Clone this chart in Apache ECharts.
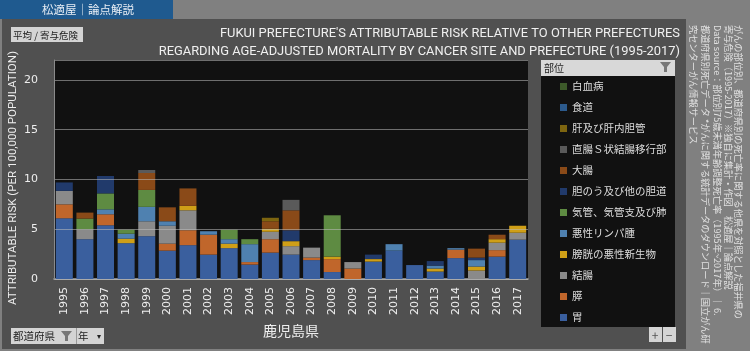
<!DOCTYPE html>
<html>
<head>
<meta charset="utf-8">
<style>
    html, body { margin: 0; padding: 0; background: #505050; }
    #chart { width: 750px; height: 351px; }
</style>
<script src="https://cdn.jsdelivr.net/npm/echarts@6/dist/echarts.min.js"></script>
</head>
<body>
<div id="chart"></div>
<script>
const years = ['1995','1996','1997','1998','1999','2000','2001','2002','2003','2004','2005','2006','2007','2008','2009','2010','2011','2012','2013','2014','2015','2016','2017'];

// values, bottom of the stack first
const stomach   = [6.1,4.0,5.4,3.6,4.3,2.85,3.4,2.45,3.1,1.45,2.65,2.45,1.9,0.7,0,1.75,2.85,1.4,0.75,2.1,0,2.25,3.95];
const pancreas  = [1.4,0,1.1,0,0,0.7,1.5,2.0,0,0.25,1.35,0,0.25,1.3,1.05,0,0,0,0,0.85,0,0.65,0];
const colon     = [1.35,1.0,0,0,1.5,1.8,2.0,0,0,0,0.75,0.85,1.0,0,0.65,0,0,0,0,0,0.85,0.75,0.7];
const bladder   = [0,0,0,0.45,0,0,0.45,0,0.45,0,0.3,0.5,0,0.25,0,0.25,0,0,0.3,0,0.4,0.35,0.7];
const lymphoma  = [0,0,0.5,0.5,1.45,0.45,0,0.35,0.45,1.8,0,0,0,0,0,0,0.65,0,0.3,0.15,0.65,0,0];
const lung      = [0,1.07,1.6,0.4,1.7,0,0,0,0.95,0.5,0,0,0,4.15,0,0,0,0,0,0,0,0,0];
const gallbladder = [0.85,0,1.75,0,0,0,0,0,0,0,0,1.1,0,0,0,0.45,0,0,0.45,0,0.25,0,0];
const largeBowel = [0,0.6,0,0,1.7,1.4,1.75,0,0,0,0.75,2.0,0,0,0,0,0,0,0,0,0.9,0.45,0];
const rectum    = [0,0,0,0,0.3,0,0,0,0,0,0,1.05,0,0,0,0,0,0,0,0,0,0,0];
const liver     = [0,0,0,0,0,0,0,0,0,0,0.35,0,0,0,0,0,0,0,0,0,0,0,0];
const esophagus = [0,0,0,0,0,0,0,0,0,0,0,0,0,0,0,0,0,0,0,0,0,0,0];
const leukemia  = [0,0,0,0,0,0,0,0,0,0,0,0,0,0,0,0,0,0,0,0,0,0,0];

const sites = [
    {name: '胃', data: stomach, color: '#3a5f9e'},
    {name: '膵', data: pancreas, color: '#c0662b'},
    {name: '結腸', data: colon, color: '#8a8a8a'},
    {name: '膀胱の悪性新生物', data: bladder, color: '#cf9f17'},
    {name: '悪性リンパ腫', data: lymphoma, color: '#4f81b0'},
    {name: '気管、気管支及び肺', data: lung, color: '#5e8b42'},
    {name: '胆のう及び他の胆道', data: gallbladder, color: '#213a6b'},
    {name: '大腸', data: largeBowel, color: '#8a4a18'},
    {name: '直腸Ｓ状結腸移行部', data: rectum, color: '#5a5a5a'},
    {name: '肝及び肝内胆管', data: liver, color: '#7d6510'},
    {name: '食道', data: esophagus, color: '#2c5a8c'},
    {name: '白血病', data: leukemia, color: '#3d5a2a'}
];

const jp = '"Noto Sans CJK JP", sans-serif';
const latin = 'Roboto, "Noto Sans", sans-serif';

const sideLines = [
    'がんの部位別、都道府県別の死亡率に関する他県を対照とした福井県の',
    '寄与危険（1995-2017）※独自に集計・作図　松適屋｜論点解説',
    'Data source：部位別75歳未満年齢調整死亡率（1995年~2017年）｜ 6.',
    '都道府県別死亡データ *がんに関する統計データのダウンロード｜国立がん研',
    '究センターがん情報サービス'
];
const sideX = [738, 728, 717, 705, 693];

function box(x, y, w, h, fill, z) {
    return {type: 'rect', shape: {x: x, y: y, width: w, height: h}, style: {fill: fill}, z: z || 0, silent: true};
}
function label(x, y, text, size, color, align) {
    return {type: 'text', x: x, y: y, z: 5, silent: true,
        style: {text: text, fontSize: size, fontFamily: jp, fill: color, align: align || 'left', verticalAlign: 'middle'}};
}
function funnel(x, y) {
    return {type: 'polygon', z: 5, silent: true,
        shape: {points: [[x, y], [x + 11, y], [x + 7, y + 5], [x + 7, y + 10], [x + 4, y + 10], [x + 4, y + 5]]},
        style: {fill: '#777777'}};
}

const graphics = [
    box(0, 0, 750, 19, '#808080'),
    box(0, 0, 173, 19, '#1f5a8f', 1),
    box(0, 19, 2, 332, '#808080'),
    box(0, 349, 750, 2, '#808080'),
    box(686, 19, 64, 332, '#808080'),
    label(42, 10, '松適屋｜論点解説', 11.5, '#e8eef5'),
    box(11, 27, 72, 15, '#d4d4d4', 1),
    label(13, 35, '平均 / 寄与危険', 9.5, '#222222'),
    box(541, 60, 134, 267, '#111111'),
    box(541, 60, 134, 16, '#d8d8d8', 1),
    label(544, 68, '部位', 10, '#222222'),
    funnel(660, 62),
    box(11, 328, 93, 16, '#d4d4d4', 1),
    label(13, 336, '都道府県', 10.5, '#222222'),
    funnel(61, 331),
    box(76, 328, 1, 16, '#999999', 2),
    label(78, 336, '年', 10.5, '#222222'),
    label(97, 336, '▾', 8, '#222222'),
    box(649, 327, 13, 15, '#d4d4d4', 1),
    box(663, 327, 13, 15, '#d4d4d4', 1),
    label(655, 335, '+', 12, '#555555', 'center'),
    label(669, 335, '−', 12, '#555555', 'center')
];
sideLines.forEach(function (line, i) {
    graphics.push({type: 'text', x: sideX[i], y: 25, rotation: -Math.PI / 2, z: 5, silent: true,
        style: {text: line, fontSize: 9.2, fontFamily: jp, fill: '#e0e0e0', verticalAlign: 'middle'}});
});

const option = {
    backgroundColor: '#505050',
    animation: false,
    title: {
        text: "FUKUI PREFECTURE'S ATTRIBUTABLE RISK RELATIVE TO OTHER PREFECTURES\nREGARDING AGE-ADJUSTED MORTALITY BY CANCER SITE AND PREFECTURE (1995-2017)",
        left: 675,
        top: 20,
        textAlign: 'right',
        textStyle: {color: '#f0f0f0', fontSize: 12.9, fontWeight: 'normal', fontFamily: latin, lineHeight: 18}
    },
    legend: {
        orient: 'vertical',
        left: 555,
        top: 73,
        icon: 'rect',
        itemWidth: 7,
        itemHeight: 7,
        itemGap: 4,
        selectedMode: false,
        data: sites.map(s => s.name).reverse(),
        textStyle: {color: '#dddddd', fontSize: 10.5, fontFamily: jp, height: 17, lineHeight: 17}
    },
    grid: {
        left: 54, right: 222, top: 60, bottom: 72,
        outerBoundsMode: 'none',
        backgroundColor: '#111111', show: true, borderWidth: 0
    },
    xAxis: {
        type: 'category',
        data: years,
        name: '鹿児島県',
        nameLocation: 'middle',
        nameGap: 45,
        nameTextStyle: {color: '#eeeeee', fontSize: 14, fontFamily: jp},
        axisLine: {lineStyle: {color: '#a8a8a8', width: 1.5}},
        axisTick: {show: false},
        axisLabel: {color: '#eeeeee', rotate: 90, fontSize: 11, fontFamily: 'DejaVu Sans', margin: 8, interval: 0}
    },
    yAxis: {
        type: 'value',
        min: 0,
        max: 22,
        interval: 5,
        z: 5,
        name: 'ATTRIBUTABLE RISK (PER 100,000 POPULATION)',
        nameLocation: 'middle',
        nameGap: 35,
        nameMoveOverlap: false,
        nameTextStyle: {color: '#eeeeee', fontSize: 11.5, fontFamily: latin, padding: [0, 17, 0, 0]},
        axisLine: {show: true, lineStyle: {color: '#8a8a8a'}},
        axisTick: {show: false},
        axisLabel: {
            color: '#eeeeee', fontSize: 11, fontFamily: 'DejaVu Sans', margin: 16,
            formatter: v => (v % 5 === 0 ? String(v) : '')
        },
        splitLine: {lineStyle: {color: 'rgba(190,190,190,0.55)', width: 1}}
    },
    graphic: graphics,
    series: sites.map(s => ({
        name: s.name,
        type: 'bar',
        stack: 'site',
        barWidth: 17,
        data: s.data,
        itemStyle: {color: s.color}
    }))
};

const chart = echarts.init(document.getElementById('chart'));
chart.setOption(option);
window.addEventListener('resize', function () {
    chart.resize();
});
</script>
</body>
</html>
